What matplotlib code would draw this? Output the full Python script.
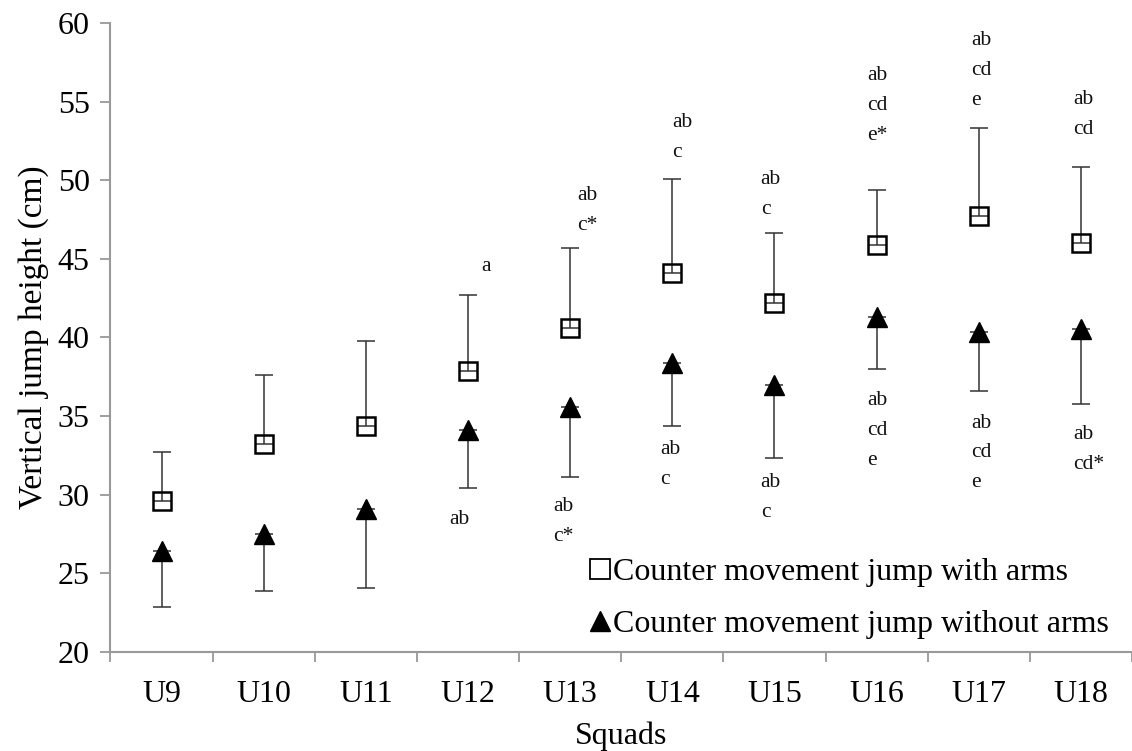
import matplotlib
matplotlib.use("Agg")
import matplotlib.pyplot as plt
from matplotlib.lines import Line2D

# Squad categories
squads = ["U9", "U10", "U11", "U12", "U13", "U14", "U15", "U16", "U17", "U18"]

# Counter movement jump with arms: mean and SD (cm)
cmj_arms_mean = [29.6, 33.2, 34.4, 37.9, 40.6, 44.1, 42.2, 45.9, 47.7, 46.0]
cmj_arms_sd = [3.1, 4.4, 5.35, 4.8, 5.1, 5.95, 4.45, 3.45, 5.6, 4.85]

# Counter movement jump without arms: mean and SD (cm)
cmj_noarms_mean = [26.4, 27.5, 29.1, 34.1, 35.6, 38.4, 36.95, 41.3, 40.35, 40.55]
cmj_noarms_sd = [3.55, 3.6, 5.05, 3.65, 4.45, 4.0, 4.6, 3.3, 3.75, 4.75]

# Significance letters: (squad index, x offset, y centre, text)
letters_above = [
    (3, 0.13, 44.5, "a"),
    (4, 0.07, 48.1, "ab\nc*"),
    (5, 0.00, 52.7, "ab\nc"),
    (6, -0.135, 49.1, "ab\nc"),
    (7, -0.09, 54.75, "ab\ncd\ne*"),
    (8, -0.07, 57.0, "ab\ncd\ne"),
    (9, -0.08, 54.2, "ab\ncd"),
]
letters_below = [
    (3, -0.185, 28.45, "ab"),
    (4, -0.17, 28.3, "ab\nc*"),
    (5, -0.12, 31.95, "ab\nc"),
    (6, -0.135, 29.8, "ab\nc"),
    (7, -0.09, 34.08, "ab\ncd\ne"),
    (8, -0.07, 32.66, "ab\ncd\ne"),
    (9, -0.08, 32.85, "ab\ncd*"),
]

plt.rcParams["font.family"] = ["Liberation Serif", "DejaVu Serif"]

fig = plt.figure(figsize=(11.32, 7.51), dpi=100)
ax = fig.add_axes([0.0976, 0.1318, 0.9024, 0.8376])

x = list(range(len(squads)))

# Upper error bars for the with-arms series
ax.errorbar(x, cmj_arms_mean, yerr=[[0] * len(x), cmj_arms_sd], fmt="none",
            ecolor="#333333", elinewidth=1.1, capsize=6.5, capthick=1.1, zorder=2)
ax.plot(x, cmj_arms_mean, linestyle="none", marker="s", markersize=13.5,
        markerfacecolor="none", markeredgecolor="black", markeredgewidth=1.8, zorder=3)

# Lower error bars for the without-arms series
ax.errorbar(x, cmj_noarms_mean, yerr=[cmj_noarms_sd, [0] * len(x)], fmt="none",
            ecolor="#333333", elinewidth=1.1, capsize=6.5, capthick=1.1, zorder=2)
ax.plot(x, cmj_noarms_mean, linestyle="none", marker="^", markersize=15,
        markerfacecolor="black", markeredgecolor="black", zorder=3)

for i, dx, y, s in letters_above + letters_below:
    ax.text(i + dx, y, s, ha="left", va="center", fontsize=15.5,
            linespacing=1.78, color="#111111")

ax.set_xlim(-0.5, len(squads) - 0.5)
ax.set_ylim(20, 60)
ax.set_yticks(range(20, 61, 5))
ax.set_xticks(x)
ax.set_xticklabels(squads)
ax.set_xticks([i - 0.5 for i in range(len(squads) + 1)], minor=True)
ax.tick_params(axis="x", which="major", length=0, pad=20, labelsize=23)
ax.tick_params(axis="x", which="minor", length=7, width=1.3, color="#999999", direction="out")
ax.tick_params(axis="y", length=7, width=1.3, color="#999999", labelsize=23, pad=8)

for side in ("top", "right"):
    ax.spines[side].set_visible(False)
for side in ("left", "bottom"):
    ax.spines[side].set_color("#999999")
    ax.spines[side].set_linewidth(1.5)

ax.set_ylabel("Vertical jump height (cm)", fontsize=24, labelpad=6)
ax.set_xlabel("Squads", fontsize=23, labelpad=9)

handles = [
    Line2D([], [], linestyle="none", marker="s", markersize=14, markerfacecolor="none",
           markeredgecolor="black", markeredgewidth=1.3),
    Line2D([], [], linestyle="none", marker="^", markersize=15, markerfacecolor="black",
           markeredgecolor="black"),
]
ax.legend(handles, ["Counter movement jump with arms", "Counter movement jump without arms"],
          loc="lower right", bbox_to_anchor=(0.99, 0.0), frameon=False, fontsize=23,
          handlelength=0.7, handletextpad=0.05, labelspacing=0.72, borderaxespad=0)

fig.savefig("out.png", dpi=100)
